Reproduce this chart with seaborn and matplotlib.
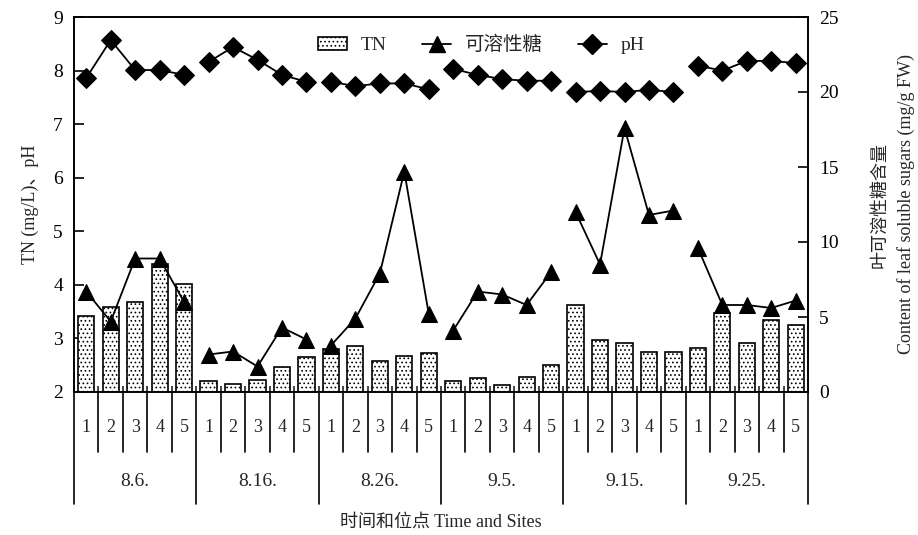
import numpy as np
import pandas as pd
import matplotlib
matplotlib.use("Agg")
import matplotlib.pyplot as plt
import seaborn as sns
from matplotlib.lines import Line2D
from matplotlib.patches import Patch
from matplotlib.transforms import blended_transform_factory

# ---- data ----
dates = ["8.6.", "8.16.", "8.26.", "9.5.", "9.15.", "9.25."]
sites = ["1", "2", "3", "4", "5"]
tn = [3.42, 3.58, 3.68, 4.39, 4.01,
      2.20, 2.15, 2.22, 2.47, 2.65,
      2.80, 2.86, 2.58, 2.67, 2.72,
      2.20, 2.27, 2.14, 2.28, 2.50,
      3.62, 2.97, 2.91, 2.75, 2.75,
      2.82, 3.47, 2.91, 3.34, 3.25]
sugar = [6.7, 4.7, 8.9, 8.9, 6.0,
         2.5, 2.7, 1.7, 4.3, 3.5,
         3.1, 4.9, 7.9, 14.7, 5.2,
         4.1, 6.7, 6.5, 5.8, 8.0,
         12.0, 8.5, 17.6, 11.8, 12.1,
         9.6, 5.8, 5.8, 5.6, 6.1]
ph = [7.86, 8.57, 8.01, 8.01, 7.92,
      8.16, 8.44, 8.20, 7.92, 7.79,
      7.79, 7.71, 7.76, 7.76, 7.65,
      8.03, 7.92, 7.84, 7.81, 7.81,
      7.60, 7.62, 7.60, 7.64, 7.60,
      8.09, 8.00, 8.18, 8.18, 8.14]

sns.set_theme(style="white")
plt.rcParams["font.family"] = ["Liberation Serif", "Noto Sans CJK SC"]
plt.rcParams["hatch.linewidth"] = 0.7

n_sites = len(sites)
df = pd.DataFrame({
    "pos": np.arange(len(tn)),
    "date": np.repeat(dates, n_sites),
    "site": sites * len(dates),
    "TN": tn,
    "sugar": sugar,
    "pH": ph,
})

W, H = 918, 535
fig = plt.figure(figsize=(W / 100, H / 100), dpi=100)
L, R, T, B = 74, 808, 17, 392
ax = fig.add_axes([L / W, 1 - B / H, (R - L) / W, (B - T) / H])

sns.barplot(data=df, x="pos", y="TN", ax=ax, color="white", edgecolor="black",
            linewidth=1.2, hatch="....", width=0.66, errorbar=None,
            order=list(df["pos"]), saturation=1)
sns.lineplot(data=df, x="pos", y="pH", units="date", estimator=None, ax=ax,
             color="black", marker="D", markersize=10, markeredgecolor="black",
             linewidth=1.3, legend=False)
ax.set_ylim(2, 9)
ax.set_xlim(-0.5, len(tn) - 0.5)
ax.set_yticks(range(2, 10))

ax2 = ax.twinx()
sns.lineplot(data=df, x="pos", y="sugar", units="date", estimator=None, ax=ax2,
             color="black", marker="^", markersize=12, markeredgecolor="black",
             linewidth=1.3, legend=False)
ax2.set_ylim(0, 25)
ax2.set_yticks(range(0, 30, 5))
ax2.set_xlim(-0.5, len(tn) - 0.5)

for a in (ax, ax2):
    for s in a.spines.values():
        s.set_color("black")
        s.set_linewidth(1.2)
ax.tick_params(axis="y", direction="in", length=7, width=1.2, labelsize=14,
               colors="black", left=True, pad=8)
ax2.tick_params(axis="y", direction="in", length=7, width=1.2, labelsize=14,
                colors="black", right=True, pad=8)
ax.set_xticks(np.arange(-0.5, len(tn), 1))
ax.set_xticklabels([])
ax.tick_params(axis="x", direction="in", length=4, width=1.2, bottom=True)
ax.set_xlabel("")
ax2.set_xlabel("")

ax.set_ylabel("TN (mg/L)、pH", fontsize=13, labelpad=10)
ax2.set_ylabel("叶可溶性糖含量\nContent of leaf soluble sugars (mg/g FW)",
               fontsize=13, labelpad=24, linespacing=1.6)

# category axis below the plot
trans = blended_transform_factory(ax.transData, ax.transAxes)
span = B - T
short = -(452 - B) / span
long = -(504 - B) / span
for b in np.arange(-0.5, len(tn), 1):
    grp = (b + 0.5) % n_sites == 0
    ax.plot([b, b], [0, long if grp else short], transform=trans, color="black",
            lw=1.2, clip_on=False)
for i, s in enumerate(df["site"]):
    ax.text(i, -(427 - B) / span, s, transform=trans, ha="center", va="center",
            fontsize=13)
for g, d in enumerate(dates):
    ax.text(g * n_sites + (n_sites - 1) / 2, -(482 - B) / span, d,
            transform=trans, ha="center", va="center", fontsize=14)
fig.text((L + R) / 2 / W, 1 - 522 / H, "时间和位点 Time and Sites",
         ha="center", va="center", fontsize=13)

handles = [
    Patch(facecolor="white", edgecolor="black", hatch="....", linewidth=1.2),
    Line2D([], [], color="black", marker="^", markersize=12, lw=1.3),
    Line2D([], [], color="black", marker="D", markersize=10, lw=1.3),
]
ax2.legend(handles, ["TN", "可溶性糖", "pH"], loc="center",
           bbox_to_anchor=(0.555, 0.925), ncol=3, frameon=False, fontsize=14,
           handlelength=1.5, columnspacing=1.8, handletextpad=0.7)

fig.savefig("out.png", dpi=100)
